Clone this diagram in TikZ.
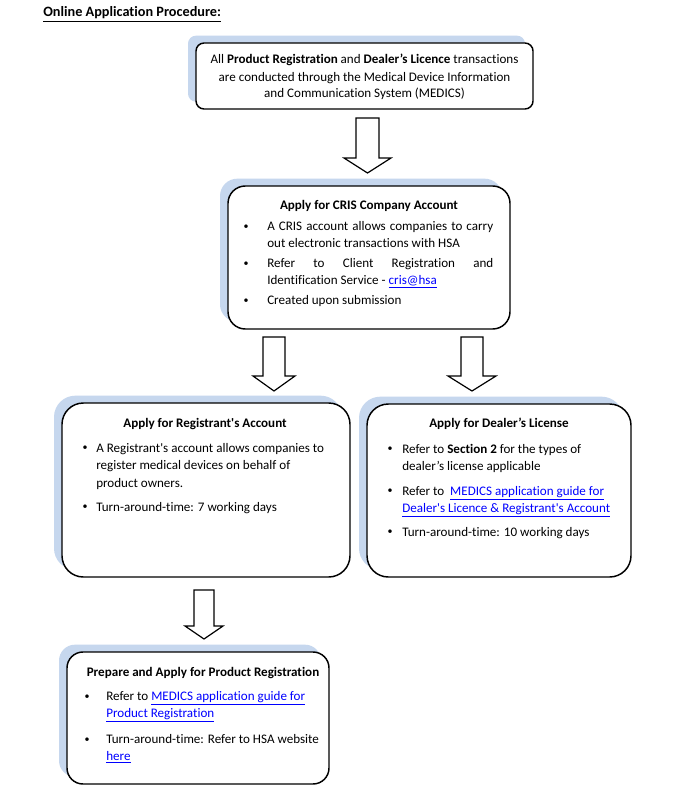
\documentclass[tikz,border=0pt]{standalone}
\usepackage{fontspec}
\setmainfont{Carlito}[Ligatures={TeXOff,NoCommon,NoContextual}]
\usetikzlibrary{shadows}
\definecolor{shadowblue}{RGB}{198,215,238}
\definecolor{linkblue}{RGB}{0,0,255}
\newcommand\bodyf{\fontsize{9.8}{12.75}\selectfont}
\newcommand\titlef{\fontsize{10.7}{13}\selectfont\bfseries}
\newcommand\lnk[1]{\textcolor{linkblue}{\underline{#1}}}
\tikzset{
  x=0.75pt, y=-0.75pt,
  box/.style={draw=black, line width=1.1pt, fill=white, inner sep=0pt,
    general shadow={fill=shadowblue, shadow xshift=-6pt, shadow yshift=5.5pt}},
  txt/.style={anchor=base west, inner sep=0pt, font=\bodyf},
  ctr/.style={anchor=base, inner sep=0pt, font=\bodyf},
  hd/.style={anchor=base, inner sep=0pt, font=\bodyf\bfseries},
  bul/.style={anchor=center, inner sep=0pt, font=\fontsize{7.5}{8}\selectfont},
  arrowline/.style={draw=black, line width=0.9pt, fill=white, line join=miter},
  pics/blockarrow/.style n args={4}{code={
    \draw[arrowline] (-#1,0) -- (#1,0) -- (#1,#3) -- (#2,#3) -- (0,#4) -- (-#2,#3) -- (-#1,#3) -- cycle;}}
}
\begin{document}
\begin{tikzpicture}
\useasboundingbox (0,0) rectangle (676,799);
\fill[white] (0,0) rectangle (676,799);

% title
\node[anchor=base west, inner sep=0pt, font=\titlef] (title) at (43,17) {\underline{Online Application Procedure:}};

% boxes
\node[box, rounded corners=6pt, minimum width=252.75pt, minimum height=49.5pt] (b1) at (364.5,76) {};
\node[box, rounded corners=13pt, minimum width=211.5pt, minimum height=107.25pt] (b2) at (369,257.5) {};
\node[box, rounded corners=16pt, minimum width=216pt, minimum height=130.5pt] (b3) at (206,490) {};
\node[box, rounded corners=16pt, minimum width=198pt, minimum height=129.75pt] (b4) at (499,490.5) {};
\node[box, rounded corners=12pt, minimum width=196.5pt, minimum height=99pt] (b5) at (198,718) {};

% arrows
\pic (a1) at (367.5,118) {blockarrow={11.5}{23.5}{40}{55}};
\pic (a2) at (274,337) {blockarrow={11}{21}{39}{54}};
\pic (a3) at (472,337) {blockarrow={11}{24}{39}{54}};
\pic (a4) at (204,590) {blockarrow={10}{19}{36}{49}};

% box 1 text
\node[ctr] (b1l1) at (364.5,64) {All \textbf{Product Registration} and \textbf{Dealer’s Licence} transactions};
\node[ctr] (b1l2) at (364.5,81) {are conducted through the Medical Device Information};
\node[ctr] (b1l3) at (364.5,98) {and Communication System (MEDICS)};

% box 2 text
\node[hd] (b2t) at (369,209) {Apply for CRIS Company Account};
\node[bul] (b2b1) at (246,227) {•};
\node[txt] (b2l1) at (267,230) {\makebox[169.5pt][s]{A CRIS account allows companies to carry}};
\node[txt] (b2l2) at (267,247) {out electronic transactions with HSA};
\node[bul] (b2b2) at (246,264) {•};
\node[txt] (b2l3) at (267,267) {\makebox[169.5pt][s]{Refer to Client Registration and}};
\node[txt] (b2l4) at (267,284) {Identification Service - \lnk{cris@hsa}};
\node[bul] (b2b3) at (246,301) {•};
\node[txt] (b2l5) at (267,304) {Created upon submission};

% box 3 text
\node[hd] (b3t) at (205,427) {Apply for Registrant's Account};
\node[bul] (b3b1) at (85,448.5) {•};
\node[txt] (b3l1) at (96,452) {A Registrant's account allows companies to};
\node[txt] (b3l2) at (96,469) {register medical devices on behalf of};
\node[txt] (b3l3) at (96,487) {product owners.};
\node[bul] (b3b2) at (85,507.5) {•};
\node[txt] (b3l4) at (96,511) {Turn-around-time: 7 working days};

% box 4 text
\node[hd] (b4t) at (499,427) {Apply for Dealer’s License};
\node[bul] (b4b1) at (390,449.5) {•};
\node[txt] (b4l1) at (402,453) {Refer to \textbf{Section 2} for the types of};
\node[txt] (b4l2) at (402,470) {dealer’s license applicable};
\node[bul] (b4b2) at (390,491.5) {•};
\node[txt] (b4l3) at (402,495) {Refer to\ \ \lnk{MEDICS application guide for}};
\node[txt] (b4l4) at (402,512) {\lnk{Dealer's Licence \& Registrant's Account}};
\node[bul] (b4b3) at (390,532.5) {•};
\node[txt] (b4l5) at (402,536) {Turn-around-time: 10 working days};

% box 5 text
\node[hd] (b5t) at (203,676) {Prepare and Apply for Product Registration};
\node[bul] (b5b1) at (87,697) {•};
\node[txt] (b5l1) at (106,700) {Refer to \lnk{MEDICS application guide for}};
\node[txt] (b5l2) at (106,717) {\lnk{Product Registration}};
\node[bul] (b5b2) at (87,740) {•};
\node[txt] (b5l3) at (106,743) {Turn-around-time: Refer to HSA website};
\node[txt] (b5l4) at (106,760) {\lnk{here}};
\end{tikzpicture}
\end{document}
